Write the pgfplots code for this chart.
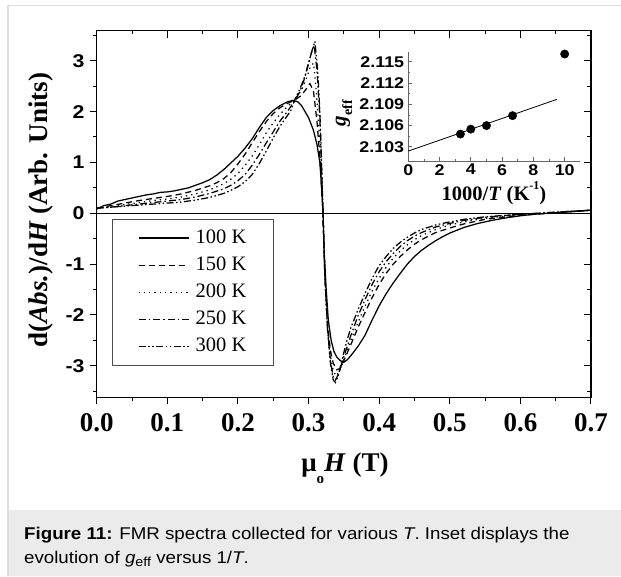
\documentclass[border=0pt]{standalone}
\usepackage{fontspec}
\setmainfont{Liberation Serif}
\newfontfamily\tsans[FakeStretch=1.15, BoldFeatures={FakeStretch=1.15}]{Liberation Sans}
\newfontfamily\capfont[FakeStretch=1.1, BoldFeatures={FakeStretch=1.1}, ItalicFeatures={FakeStretch=1.1}]{Liberation Sans}
\usepackage{pgfplots}
\pgfplotsset{compat=1.18}
\definecolor{framegray}{HTML}{DDDDDD}
\definecolor{capgray}{HTML}{EBEBEB}
\begin{document}
\begin{tikzpicture}[x=1pt,y=1pt]
\path[use as bounding box] (0pt,0pt) rectangle (621pt,576pt);
% frame and caption
\draw[framegray, line width=1.5pt] (8pt,0pt) -- (8pt,570.3pt) -- (621pt,570.3pt);
\fill[capgray] (9pt,0pt) rectangle (621pt,66pt);
\node[anchor=base west, inner sep=0pt, font=\capfont\fontsize{17}{20}\selectfont] at (24pt,37pt) {\textbf{Figure 11:} FMR spectra collected for various \textit{T}. Inset displays the};
\node[anchor=base west, inner sep=0pt, font=\capfont\fontsize{17}{20}\selectfont] at (24pt,12.5pt) {evolution of \textit{g}\raisebox{-0.3ex}{\fontsize{13}{13}\selectfont eff} versus 1/\textit{T}.};

% main axis (bottom/left ticks outside)
\begin{axis}[
  at={(96.7pt,178.7pt)}, anchor=south west, scale only axis,
  width=494.3pt, height=366.6pt,
  xmin=0, xmax=0.7, ymin=-3.62, ymax=3.59,
  xtick={0,0.1,0.2,0.3,0.4,0.5,0.6,0.7},
  xticklabels={0.0,0.1,0.2,0.3,0.4,0.5,0.6,0.7},
  minor xtick={0.05,0.15,0.25,0.35,0.45,0.55,0.65},
  ytick={-3,-2,-1,0,1,2,3},
  yticklabels={-3,-2,-1,0,1,2,3},
  minor ytick={-3.5,-2.5,-1.5,-0.5,0.5,1.5,2.5,3.5},
  tick pos=left, tick align=outside,
  major tick length=7pt, minor tick length=3.5pt,
  tick style={black, line width=1pt},
  axis line style={line width=1.3pt},
  xticklabel style={font=\bfseries\fontsize{27}{27}\selectfont, inner sep=0pt, yshift=-9pt},
  yticklabel style={font=\tsans\bfseries\fontsize{18.5}{18.5}\selectfont, inner sep=0pt, xshift=-5pt},
  legend style={at={(0.030,0.486)}, anchor=north west, draw=black!70, line width=0.8pt,
    font=\fontsize{20.5}{20.5}\selectfont, inner xsep=26pt, inner ysep=8pt, row sep=6.2pt, column sep=5pt,
    nodes={inner sep=1.5pt, text height=14pt, text depth=4pt}},
  legend cell align=left,
  legend image code/.code={\draw[#1] (0pt,0pt) -- (50pt,0pt);},
  clip=true,
]
\addplot[black, line width=1.3pt, forget plot] coordinates {(0,0) (0.7,0)};
% 100 K
\addplot[black, line width=1.25pt] coordinates {
(0.000,0.08) (0.010,0.15) (0.020,0.18) (0.030,0.24) (0.040,0.27) (0.050,0.30) (0.060,0.33) (0.070,0.36)
(0.080,0.38) (0.090,0.41) (0.100,0.42) (0.110,0.44) (0.120,0.47) (0.130,0.50) (0.140,0.55) (0.150,0.60)
(0.160,0.66) (0.170,0.75) (0.180,0.86) (0.190,0.99) (0.200,1.12) (0.210,1.28) (0.220,1.46) (0.230,1.68)
(0.240,1.88) (0.250,2.02) (0.260,2.12) (0.270,2.19) (0.278,2.22) (0.285,2.19) (0.290,2.12) (0.300,1.88)
(0.307,1.63) (0.312,1.35) (0.316,1.00) (0.319,0.40) (0.3205,0.0) (0.322,-0.7) (0.325,-1.5) (0.328,-2.1)
(0.332,-2.5) (0.336,-2.72) (0.340,-2.83) (0.345,-2.90) (0.350,-2.93) (0.355,-2.88) (0.360,-2.80) (0.370,-2.62)
(0.380,-2.40) (0.390,-2.10) (0.400,-1.82) (0.410,-1.58) (0.420,-1.37) (0.430,-1.18) (0.440,-1.00) (0.450,-0.85)
(0.460,-0.73) (0.470,-0.63) (0.480,-0.54) (0.490,-0.46) (0.500,-0.39) (0.520,-0.28) (0.540,-0.20) (0.560,-0.14)
(0.580,-0.09) (0.600,-0.05) (0.620,-0.02) (0.640,0.00) (0.660,0.02) (0.680,0.04) (0.700,0.06)};
\addlegendentry{100 K}
% 150 K
\addplot[black, line width=1.25pt, dash pattern=on 6pt off 4pt] coordinates {
(0.000,0.10) (0.020,0.15) (0.040,0.20) (0.060,0.25) (0.080,0.29) (0.100,0.33) (0.120,0.38) (0.140,0.45)
(0.160,0.54) (0.170,0.60) (0.180,0.68) (0.190,0.80) (0.200,0.97) (0.210,1.16) (0.220,1.38) (0.230,1.60)
(0.240,1.80) (0.250,1.96) (0.260,2.08) (0.270,2.16) (0.280,2.22) (0.290,2.32) (0.297,2.45) (0.302,2.55)
(0.307,2.40) (0.312,1.80) (0.316,1.10) (0.3205,0.0) (0.323,-1.2) (0.327,-2.2) (0.331,-2.7) (0.335,-2.95)
(0.340,-3.08) (0.345,-3.05) (0.350,-2.90) (0.360,-2.58) (0.370,-2.25) (0.380,-1.95) (0.390,-1.66) (0.400,-1.40)
(0.410,-1.18) (0.420,-1.00) (0.430,-0.85) (0.440,-0.72) (0.450,-0.61) (0.460,-0.52) (0.480,-0.38) (0.500,-0.29)
(0.520,-0.21) (0.550,-0.12) (0.600,-0.04) (0.650,0.01) (0.700,0.06)};
\addlegendentry{150 K}
% 200 K
\addplot[black, line width=1.25pt, dash pattern=on 1.3pt off 4pt] coordinates {
(0.000,0.10) (0.020,0.13) (0.040,0.17) (0.060,0.21) (0.080,0.25) (0.100,0.28) (0.120,0.32) (0.140,0.38)
(0.160,0.46) (0.180,0.58) (0.190,0.67) (0.200,0.78) (0.210,0.94) (0.220,1.12) (0.230,1.34) (0.240,1.58)
(0.250,1.78) (0.260,1.95) (0.270,2.10) (0.280,2.22) (0.290,2.42) (0.297,2.65) (0.303,2.90) (0.307,2.95)
(0.311,2.40) (0.315,1.60) (0.318,0.90) (0.3205,0.0) (0.323,-1.2) (0.327,-2.25) (0.331,-2.8) (0.335,-3.1)
(0.339,-3.20) (0.344,-3.10) (0.350,-2.88) (0.360,-2.50) (0.370,-2.15) (0.380,-1.83) (0.390,-1.53) (0.400,-1.28)
(0.410,-1.06) (0.420,-0.88) (0.430,-0.74) (0.440,-0.62) (0.450,-0.52) (0.460,-0.44) (0.480,-0.32) (0.500,-0.23)
(0.520,-0.17) (0.550,-0.10) (0.600,-0.03) (0.650,0.01) (0.700,0.06)};
\addlegendentry{200 K}
% 250 K
\addplot[black, line width=1.25pt, dash pattern=on 7pt off 3pt on 1.5pt off 3pt] coordinates {
(0.000,0.10) (0.020,0.12) (0.040,0.15) (0.060,0.18) (0.080,0.21) (0.100,0.24) (0.120,0.27) (0.140,0.32)
(0.160,0.39) (0.180,0.48) (0.190,0.55) (0.200,0.64) (0.210,0.76) (0.220,0.94) (0.230,1.15) (0.240,1.38)
(0.250,1.60) (0.260,1.82) (0.270,2.00) (0.280,2.20) (0.288,2.40) (0.295,2.68) (0.300,2.95) (0.305,3.20)
(0.308,3.30) (0.312,2.80) (0.316,1.90) (0.318,1.10) (0.3205,0.0) (0.323,-1.2) (0.327,-2.3) (0.331,-2.9)
(0.335,-3.22) (0.338,-3.28) (0.343,-3.15) (0.350,-2.82) (0.360,-2.40) (0.370,-2.02) (0.380,-1.70) (0.390,-1.40)
(0.400,-1.15) (0.410,-0.95) (0.420,-0.79) (0.430,-0.65) (0.440,-0.54) (0.450,-0.45) (0.460,-0.38) (0.480,-0.27)
(0.500,-0.20) (0.520,-0.14) (0.550,-0.08) (0.600,-0.02) (0.650,0.02) (0.700,0.06)};
\addlegendentry{250 K}
% 300 K
\addplot[black, line width=1.25pt, dash pattern=on 7pt off 2.5pt on 1.5pt off 2.5pt on 1.5pt off 2.5pt] coordinates {
(0.000,0.10) (0.020,0.12) (0.040,0.14) (0.060,0.16) (0.080,0.18) (0.100,0.20) (0.120,0.22) (0.140,0.26)
(0.160,0.31) (0.180,0.39) (0.190,0.45) (0.200,0.52) (0.210,0.62) (0.220,0.76) (0.230,0.97) (0.240,1.22)
(0.250,1.48) (0.260,1.72) (0.270,1.92) (0.275,2.02) (0.280,2.22) (0.288,2.45) (0.295,2.70) (0.300,2.95)
(0.305,3.20) (0.309,3.38) (0.313,2.80) (0.316,2.00) (0.318,1.20) (0.3205,0.0) (0.323,-1.2) (0.327,-2.3)
(0.331,-2.95) (0.335,-3.28) (0.338,-3.33) (0.342,-3.20) (0.347,-2.90) (0.354,-2.52) (0.360,-2.25) (0.370,-1.90)
(0.380,-1.58) (0.390,-1.28) (0.400,-1.03) (0.410,-0.85) (0.420,-0.69) (0.430,-0.57) (0.440,-0.47) (0.450,-0.39)
(0.460,-0.32) (0.480,-0.23) (0.500,-0.17) (0.520,-0.12) (0.550,-0.07) (0.600,-0.02) (0.650,0.02) (0.700,0.06)};
\addlegendentry{300 K}
\end{axis}

% top/right inward ticks
\begin{axis}[
  at={(96.7pt,178.7pt)}, anchor=south west, scale only axis,
  width=494.3pt, height=366.6pt,
  xmin=0, xmax=0.7, ymin=-3.62, ymax=3.59,
  xtick={0,0.1,0.2,0.3,0.4,0.5,0.6,0.7}, xticklabels={},
  minor xtick={0.05,0.15,0.25,0.35,0.45,0.55,0.65},
  ytick={-3,-2,-1,0,1,2,3}, yticklabels={},
  minor ytick={-3.5,-2.5,-1.5,-0.5,0.5,1.5,2.5,3.5},
  tick pos=right, tick align=inside,
  major tick length=7pt, minor tick length=3.5pt,
  tick style={black, line width=1pt},
  axis line style={line width=1.3pt},
]
\end{axis}

% inset
\begin{axis}[
  at={(408.3pt,415pt)}, anchor=south west, scale only axis,
  width=172pt, height=109.1pt,
  xmin=0, xmax=11, ymin=2.101, ymax=2.1164,
  axis x line*=bottom, axis y line*=left,
  axis line style={-, black!60, line width=0.8pt},
  xtick={0,2,4,6,8,10}, xticklabels={0,2,4,6,8,10},
  minor xtick={1,3,5,7,9},
  ytick={2.103,2.106,2.109,2.112,2.115},
  yticklabels={2.103,2.106,2.109,2.112,2.115},
  minor ytick={2.1045,2.1075,2.1105,2.1135},
  tick align=inside, major tick length=3.5pt, minor tick length=2pt,
  tick style={black!60, line width=0.8pt},
  xticklabel style={font=\tsans\bfseries\fontsize{15.5}{15.5}\selectfont, inner sep=0pt, yshift=-3pt},
  yticklabel style={font=\tsans\bfseries\fontsize{15.5}{15.5}\selectfont, inner sep=0pt, xshift=-4pt},
  clip=false,
]
\addplot[black, line width=0.8pt] coordinates {(0,2.1024) (9.5,2.1097)};
\addplot[black, only marks, mark=*, mark size=4.2pt] coordinates {
(3.333,2.1048) (4,2.1055) (5,2.1060) (6.667,2.1074) (10,2.1161)};
\end{axis}

% axis labels
\node[rotate=90, font=\bfseries\fontsize{27}{27}\selectfont] at (41pt,366pt) {d(\textit{Abs.})/d\textit{H} (Arb. Units)};
\node[font=\bfseries\fontsize{27}{27}\selectfont] at (345pt,108pt) {μ\raisebox{-0.45em}{\fontsize{15}{15}\selectfont o}\textit{H} (T)};
\node[font=\bfseries\fontsize{20.5}{20.5}\selectfont] at (494pt,383pt) {1000/\textit{T} (K\raisebox{0.55em}{\fontsize{12}{12}\selectfont -1})};
\node[rotate=90, font=\bfseries\fontsize{21}{21}\selectfont] at (344pt,463pt) {\textit{g}\raisebox{-0.3em}{\fontsize{14}{14}\selectfont eff}};
\end{tikzpicture}
\end{document}
